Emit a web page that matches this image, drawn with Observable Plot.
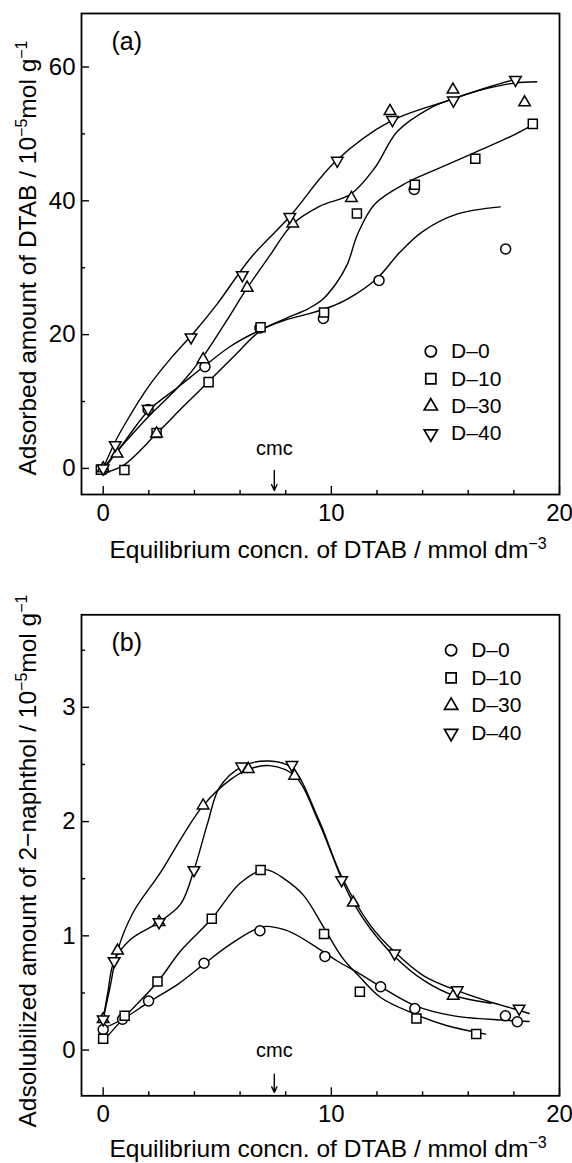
<!DOCTYPE html>
<html><head><meta charset="utf-8">
<script src="https://cdn.jsdelivr.net/npm/d3@7"></script>
<script src="https://cdn.jsdelivr.net/npm/@observablehq/plot@0.6"></script>
<style>
html,body{margin:0;padding:0;background:#fff;}
#chart svg{display:block;}
</style></head><body><div id="chart"></div>
<script>
// ---------- labels ----------
const seriesNames = ["D–0", "D–10", "D–30", "D–40"];
const xMajorTicks = [0, 10, 20];
const xMinorTicks = [2, 4, 6, 8, 12, 14, 16, 18];
const aYMajorTicks = [0, 20, 40, 60];
const aYMinorTicks = [10, 30, 50];
const bYMajorTicks = [0, 1, 2, 3];
const bYMinorTicks = [0.5, 1.5, 2.5, 3.5];
const cmcValue = 7.5;

// ---------- panel (a): adsorbed amount of DTAB (measured points) ----------
const aD0x  = [0, 1.97, 4.46, 6.87, 9.65, 12.09, 13.63, 17.64];
const aD0y  = [-0.2, 8.8, 15.2, 21.0, 22.4, 28.1, 41.7, 32.8];
const aD10x = [-0.1, 0.93, 2.34, 4.62, 6.9, 9.68, 11.12, 13.66, 16.31, 18.83];
const aD10y = [-0.2, -0.25, 5.3, 12.9, 21.1, 23.3, 38.1, 42.4, 46.3, 51.5];
const aD30x = [0, 0.61, 2.34, 4.38, 6.31, 8.31, 10.88, 12.57, 15.33, 18.47];
const aD30y = [0, 2.2, 5.2, 16.3, 27.0, 36.6, 40.4, 53.4, 56.6, 54.7];
const aD40x = [0, 0.53, 1.97, 3.85, 6.1, 8.18, 10.26, 12.68, 15.35, 18.07];
const aD40y = [0, 3.5, 8.9, 19.6, 28.9, 37.6, 46.0, 52.1, 55.0, 58.1];

// panel (a): hand-drawn smooth curves
const aC0x  = [0, 1, 2, 3.3, 4.4, 5.6, 6.9, 8, 9, 10, 10.7, 12, 13, 14, 15.5, 17.4];
const aC0y  = [-0.3, 4.3, 8.7, 12.2, 15.2, 18.3, 20.7, 22.2, 23.1, 24.2, 25.3, 28.4, 32.3, 35.4, 38, 39.1];
const aC10x = [0, 0.9, 2.34, 3.5, 4.6, 5.8, 6.9, 8, 9, 9.6, 10.2, 10.7, 11.15, 11.9, 13.3, 14.6, 16.4, 17.85, 18.85];
const aC10y = [-0.7, 0.5, 5.2, 9.2, 12.9, 17, 20.6, 22.4, 23.9, 25.2, 27.6, 30.5, 35, 39.5, 42.7, 44.7, 47.4, 49.6, 51.4];
const aC30x = [0, 0.6, 2, 3.3, 4.35, 5.3, 6.3, 7.3, 8.3, 9.5, 10.85, 11.9, 12.9, 14.35, 15.2, 16.5, 18, 19];
const aC30y = [0, 2.5, 7.8, 12.2, 16.6, 21.5, 26.9, 31.8, 36.5, 39.2, 41.0, 44.9, 50.4, 53.9, 55.1, 56.5, 57.6, 57.8];
const aC40x = [0, 0.5, 1, 2, 3, 4, 5, 6.47, 8.14, 10.19, 12.6, 15.22, 16.8, 18.1];
const aC40y = [0, 3.8, 6.9, 12.3, 16.6, 20.4, 24.6, 31.5, 37.5, 45.9, 51.9, 55.1, 56.9, 58.2];

// ---------- panel (b): adsolubilized amount of 2-naphthol (measured points) ----------
const bD0x  = [0, 0.85, 1.99, 4.42, 6.87, 9.72, 12.16, 13.66, 17.63, 18.15];
const bD0y  = [0.18, 0.27, 0.43, 0.76, 1.045, 0.82, 0.554, 0.364, 0.30, 0.248];
const bD10x = [0, 0.94, 2.38, 4.76, 6.9, 9.68, 11.25, 13.73, 16.35];
const bD10y = [0.10, 0.30, 0.60, 1.15, 1.576, 1.016, 0.51, 0.277, 0.14];
const bD30x = [0, 0.63, 2.45, 4.38, 6.36, 8.39, 10.96, 15.34];
const bD30y = [0.27, 0.87, 1.12, 2.14, 2.46, 2.40, 1.29, 0.475];
const bD40x = [0, 0.48, 2.45, 3.98, 6.07, 8.27, 10.45, 12.77, 15.52, 18.23];
const bD40y = [0.27, 0.78, 1.12, 1.576, 2.483, 2.496, 1.489, 0.846, 0.525, 0.364];

// panel (b): smooth curves
const bC0x  = [0, 0.85, 2, 3.3, 4.4, 5.6, 7.0, 8.0, 8.8, 10.26, 11.14, 12.16, 13.66, 15.37, 17.56, 18.67];
const bC0y  = [0.19, 0.27, 0.42, 0.58, 0.75, 0.93, 1.08, 1.05, 0.97, 0.78, 0.68, 0.555, 0.39, 0.30, 0.262, 0.25];
const bC10x = [0, 0.9, 2.4, 3.4, 4.76, 6, 7.1, 8, 8.8, 9.68, 10.48, 11.2, 12.16, 13.66, 15.08, 16.76];
const bC10y = [0.08, 0.28, 0.6, 0.87, 1.15, 1.46, 1.58, 1.49, 1.35, 1.07, 0.81, 0.65, 0.46, 0.315, 0.213, 0.14];
const bC30x = [0, 0.3, 0.63, 1.3, 2.53, 3.5, 4.38, 5.59, 6.4, 7.3, 8.4, 9.44, 10.45, 10.96, 11.72, 12.77, 14.05, 15.34, 17.0];
const bC30y = [0.27, 0.55, 0.87, 1.2, 1.56, 1.88, 2.14, 2.37, 2.46, 2.49, 2.40, 2.0, 1.5, 1.29, 1.06, 0.82, 0.61, 0.48, 0.41];
const bC40x = [0, 0.2, 0.48, 1.21, 2.45, 3.4, 3.98, 4.57, 5.1, 6.07, 7.3, 8.27, 9.44, 10.45, 11.72, 12.77, 14.05, 15.52, 16.83, 17.85, 18.67];
const bC40y = [0.27, 0.5, 0.78, 0.97, 1.12, 1.28, 1.576, 1.98, 2.30, 2.48, 2.53, 2.47, 2.02, 1.52, 1.09, 0.86, 0.65, 0.52, 0.43, 0.37, 0.32];

// ---------- helpers ----------
const zip = (xs, ys) => xs.map((x, i) => ({x, y: ys[i]}));
const FONT = "'Liberation Sans', Arial, Helvetica, sans-serif";
const symbolSpecs = [
  {symbol: "circle", r: 5, rotate: 0},
  {symbol: "square", r: 5.1, rotate: 0},
  {symbol: "triangle", r: 4.3, rotate: 0},
  {symbol: "triangle", r: 4.3, rotate: 180}
];

function panel(cfg) {
  const W = 572, H = cfg.height;
  const mL = 81, mR = 13;
  const frameW = W - mL - mR;
  const frameH = H - cfg.mT - cfg.mB;
  const marks = [];
  cfg.curves.forEach(c => marks.push(Plot.line(zip(c[0], c[1]), {x: "x", y: "y", curve: "catmull-rom", stroke: "black", strokeWidth: 1.4})));
  cfg.points.forEach((p, i) => {
    const s = symbolSpecs[i];
    marks.push(Plot.dot(zip(p[0], p[1]), {x: "x", y: "y", symbol: s.symbol, r: s.r, rotate: s.rotate, stroke: "black", fill: "white", strokeWidth: 1.5}));
  });
  const leg = seriesNames.map((name, i) => ({name, i, y: cfg.legY0 - i * cfg.legStep}));
  leg.forEach((d, i) => {
    const s = symbolSpecs[i];
    marks.push(Plot.dot([d], {x: () => cfg.legX, y: "y", symbol: s.symbol, r: s.r + 0.6, rotate: s.rotate, stroke: "black", fill: "white", strokeWidth: 1.7}));
  });
  marks.push(Plot.text(leg, {x: () => cfg.legTextX, y: "y", text: "name", textAnchor: "start", fontSize: 21, fill: "black"}));
  marks.push(Plot.text(["cmc"], {x: () => cmcValue, y: () => cfg.cmcY, text: d => d, fontSize: 20, fill: "black"}));
  marks.push(Plot.arrow([cmcValue], {x1: d => d, x2: d => d, y1: () => cfg.arrowY1, y2: () => cfg.arrowY2, stroke: "black", strokeWidth: 1.4, headLength: 7, headAngle: 50}));
  marks.push(Plot.text([cfg.tag], {frameAnchor: "top-left", dx: 30, dy: 28, text: d => d, textAnchor: "start", lineAnchor: "middle", fontSize: 25, fill: "black"}));
  // inward ticks
  marks.push(Plot.ruleX(xMajorTicks, {x: d => d, insetTop: frameH - 8, stroke: "black", strokeWidth: 1.4}));
  marks.push(Plot.ruleX(xMinorTicks, {x: d => d, insetTop: frameH - 4, stroke: "black", strokeWidth: 1.4}));
  marks.push(Plot.ruleY(cfg.yMajor, {y: d => d, insetRight: frameW - 8, stroke: "black", strokeWidth: 1.4}));
  marks.push(Plot.ruleY(cfg.yMinor, {y: d => d, insetRight: frameW - 4, stroke: "black", strokeWidth: 1.4}));
  // tick labels
  marks.push(Plot.axisX({ticks: xMajorTicks, tickSize: 0, tickPadding: 9, label: null, fontSize: 24, tickFormat: d => String(d)}));
  marks.push(Plot.axisY({ticks: cfg.yMajor, tickSize: 0, tickPadding: 6, label: null, fontSize: 24, tickFormat: d => String(d)}));
  marks.push(Plot.frame({stroke: "black", strokeWidth: 1.8}));

  const svg = Plot.plot({
    width: W, height: H,
    marginLeft: mL, marginRight: mR, marginTop: cfg.mT, marginBottom: cfg.mB,
    x: {domain: [-0.95, 20], label: null},
    y: {domain: cfg.yDomain, label: null},
    style: {fontFamily: FONT, fontSize: "24px", color: "black", background: "white", overflow: "visible"},
    marks
  });
  const s = d3.select(svg);
  const xt = s.append("text").attr("x", 328).attr("y", cfg.xTitleY).attr("text-anchor", "middle")
    .attr("font-family", FONT).attr("font-size", 24.5).attr("fill", "black");
  xt.append("tspan").text("Equilibrium concn. of DTAB / mmol dm");
  xt.append("tspan").attr("dy", -9).attr("font-size", 16).text("−3");
  const yt = s.append("text").attr("transform", `translate(36,${cfg.yTitleCY}) rotate(-90)`).attr("text-anchor", "middle")
    .attr("font-family", FONT).attr("font-size", 24.5).attr("fill", "black");
  yt.append("tspan").text(cfg.yTitleMain + " / 10");
  yt.append("tspan").attr("dy", -9).attr("font-size", 16).text("−5");
  yt.append("tspan").attr("dy", 9).attr("font-size", 24.5).text("mol g");
  yt.append("tspan").attr("dy", -9).attr("font-size", 16).text("−1");
  return svg;
}

const chart = document.getElementById("chart");
chart.append(panel({
  height: 580, mT: 13, mB: 86,
  yDomain: [-3.9, 68], yMajor: aYMajorTicks, yMinor: aYMinorTicks,
  curves: [[aC0x, aC0y], [aC10x, aC10y], [aC30x, aC30y], [aC40x, aC40y]],
  points: [[aD0x, aD0y], [aD10x, aD10y], [aD30x, aD30y], [aD40x, aD40y]],
  legX: 14.36, legTextX: 15.25, legY0: 17.5, legStep: 4.1,
  cmcY: 3.0, arrowY1: -0.3, arrowY2: -3.3,
  tag: "(a)", xTitleY: 558, yTitleCY: 258,
  yTitleMain: "Adsorbed amount of DTAB"
}));
chart.append(panel({
  height: 583, mT: 34.3, mB: 67.7,
  yDomain: [-0.4, 3.81], yMajor: bYMajorTicks, yMinor: bYMinorTicks,
  curves: [[bC0x, bC0y], [bC10x, bC10y], [bC30x, bC30y], [bC40x, bC40y]],
  points: [[bD0x, bD0y], [bD10x, bD10y], [bD30x, bD30y], [bD40x, bD40y]],
  legX: 15.25, legTextX: 16.13, legY0: 3.5, legStep: 0.242,
  cmcY: 0.0, arrowY1: -0.21, arrowY2: -0.37,
  tag: "(b)", xTitleY: 577, yTitleCY: 281,
  yTitleMain: "Adsolubilized amount of 2−naphthol"
}));
</script>
</body></html>
